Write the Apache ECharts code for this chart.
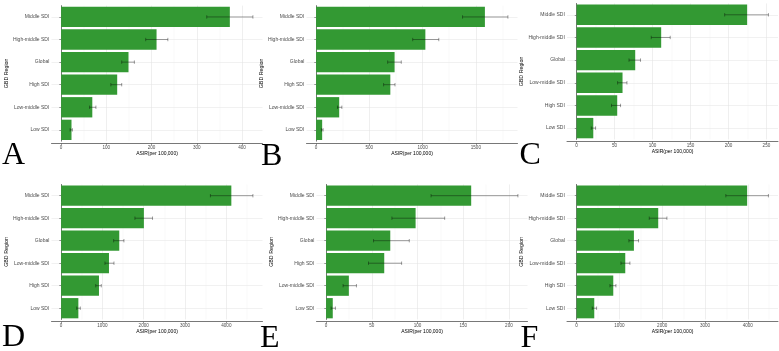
<!DOCTYPE html>
<html>
<head>
<meta charset="utf-8">
<script src="https://cdn.jsdelivr.net/npm/echarts@6/dist/echarts.min.js"></script>
<style>
  html, body { margin: 0; padding: 0; background: #fff; }
  #chart { width: 779px; height: 351px; }
</style>
</head>
<body>
<div id="chart"></div>
<script>
// region order differs between panels
var regionsA = ['Middle SDI', 'High-middle SDI', 'Global', 'High SDI', 'Low-middle SDI', 'Low SDI'];
var regionsC = ['Middle SDI', 'High-middle SDI', 'Global', 'Low-middle SDI', 'High SDI', 'Low SDI'];

var asirA = [373, 211, 149, 124, 69, 23];
var lowA = [322, 187, 134, 110, 63, 20];
var upA = [424, 236, 162, 134, 77, 25];

var asirB = [1585, 1026, 737, 697, 217, 57];
var lowB = [1375, 907, 672, 634, 201, 50];
var upB = [1801, 1152, 800, 741, 242, 66];

var asirC = [224.6, 111.4, 77.2, 60.5, 53.5, 22];
var lowC = [195, 98.3, 69, 54, 46, 19.3];
var upC = [252.6, 123.3, 84.2, 66.3, 57.9, 25];

var asirD = [4121, 2004, 1408, 1159, 917, 418];
var lowD = [3614, 1787, 1272, 1062, 838, 378];
var upD = [4643, 2213, 1521, 1280, 973, 466];

var asirE = [158.7, 97.9, 70.2, 63.6, 24.9, 7.3];
var lowE = [114.8, 72, 51.9, 46.4, 18.6, 5.5];
var upE = [209.8, 129.7, 91, 82.6, 33.2, 10.2];

var asirF = [3984, 1907, 1339, 1137, 857, 413];
var lowF = [3486, 1697, 1222, 1036, 779, 366];
var upF = [4481, 2110, 1447, 1246, 919, 467];

var panelLetters = ['A', 'B', 'C', 'D', 'E', 'F'];
var tickSteps = [100, 500, 50, 1000, 50, 1000];

var panels = [
  { cats: regionsA, val: asirA, low: lowA, up: upA, left: 51.5, top: 3.4, bottom: 143.4 },
  { cats: regionsA, val: asirB, low: lowB, up: upB, left: 306.5, top: 3.4, bottom: 143.4 },
  { cats: regionsC, val: asirC, low: lowC, up: upC, left: 567, top: 1.2, bottom: 141.7 },
  { cats: regionsC, val: asirD, low: lowD, up: upD, left: 51.5, top: 182.2, bottom: 321.7 },
  { cats: regionsA, val: asirE, low: lowE, up: upE, left: 316.5, top: 182.2, bottom: 321.7 },
  { cats: regionsC, val: asirF, low: lowF, up: upF, left: 567, top: 182.2, bottom: 321.7 }
];

var green = '#339933';
var textGrey = '#4d4d4d';
var font = 'Liberation Sans';

var grids = [], xAxes = [], yAxes = [], series = [], letters = [];

panels.forEach(function (p, k) {
  // ggplot-like discrete expansion: 0.6 band on each side
  var band = (p.bottom - p.top) / 6.2;
  var gap = 0.1 * band;
  var maxUp = Math.max.apply(null, p.up);
  grids.push({ left: p.left, top: p.top + gap, width: 211, height: band * 6 });

  xAxes.push({
    type: 'value', gridIndex: k,
    min: -maxUp * 0.05, max: maxUp * 1.05,
    minInterval: tickSteps[k], maxInterval: tickSteps[k],
    offset: gap,
    name: 'ASIR(per 100,000)', nameLocation: 'middle', nameGap: 6.5,
    nameTextStyle: { fontSize: 5, color: '#000', fontFamily: font },
    axisLine: { show: true, lineStyle: { color: '#555', width: 0.8 } },
    axisTick: { show: true, length: 1.8, lineStyle: { color: '#555', width: 0.6 } },
    axisLabel: { fontSize: 4.6, color: textGrey, fontFamily: font, margin: 1.8,
                 showMinLabel: false, showMaxLabel: false,
                 formatter: function (v) { return String(v); } },
    splitLine: { show: true, showMinLine: false, showMaxLine: false,
                 lineStyle: { color: '#e4e4e4', width: 0.6 } },
    minorTick: { show: false, splitNumber: 2 },
    minorSplitLine: { show: true, lineStyle: { color: '#f1f1f1', width: 0.4 } }
  });

  yAxes.push({
    type: 'category', gridIndex: k, data: p.cats, inverse: true,
    name: 'GBD Region', nameLocation: 'middle', nameGap: 38, nameRotate: 90,
    nameTextStyle: { fontSize: 5.3, color: '#000', fontFamily: font },
    axisLine: { show: true, lineStyle: { color: '#555', width: 0.8 } },
    axisTick: { show: true, length: 1.8, alignWithLabel: true, lineStyle: { color: '#555', width: 0.6 } },
    axisLabel: { fontSize: 5, color: textGrey, fontFamily: font, margin: 2.2 },
    splitLine: { show: true, alignWithLabel: true, lineStyle: { color: '#e8e8e8', width: 0.6 } }
  });

  series.push({
    type: 'bar', xAxisIndex: k, yAxisIndex: k,
    data: p.val, barWidth: '90%',
    itemStyle: { color: green }
  });

  series.push({
    type: 'custom', xAxisIndex: k, yAxisIndex: k, z: 5,
    data: p.cats.map(function (c, i) { return [p.low[i], p.up[i], i]; }),
    encode: { x: [0, 1], y: 2 },
    renderItem: function (params, api) {
      var yi = api.value(2);
      var a = api.coord([api.value(0), yi]);
      var b = api.coord([api.value(1), yi]);
      var h = api.size([0, 1])[1] * 0.075;
      var st = { stroke: 'rgba(0,0,0,0.55)', lineWidth: 0.7 };
      return {
        type: 'group',
        children: [
          { type: 'line', shape: { x1: a[0], y1: a[1], x2: b[0], y2: b[1] }, style: st },
          { type: 'line', shape: { x1: a[0], y1: a[1] - h, x2: a[0], y2: a[1] + h }, style: st },
          { type: 'line', shape: { x1: b[0], y1: b[1] - h, x2: b[0], y2: b[1] + h }, style: st }
        ]
      };
    }
  });
});

var letterPos = [[2, 156], [261, 156.5], [519.5, 156], [2, 338], [260, 338.5], [520.5, 338.5]];
panelLetters.forEach(function (t, i) {
  letters.push({
    type: 'text', z: 10,
    style: { text: t, x: letterPos[i][0], y: letterPos[i][1], fill: '#000',
             font: '32px "Liberation Serif"', align: 'left', verticalAlign: 'middle' }
  });
});

var myChart = echarts.init(document.getElementById('chart'));
var option = {
  animation: false,
  backgroundColor: '#fff',
  grid: grids,
  xAxis: xAxes,
  yAxis: yAxes,
  series: series,
  graphic: letters
};
myChart.setOption(option, true);
</script>
</body>
</html>
